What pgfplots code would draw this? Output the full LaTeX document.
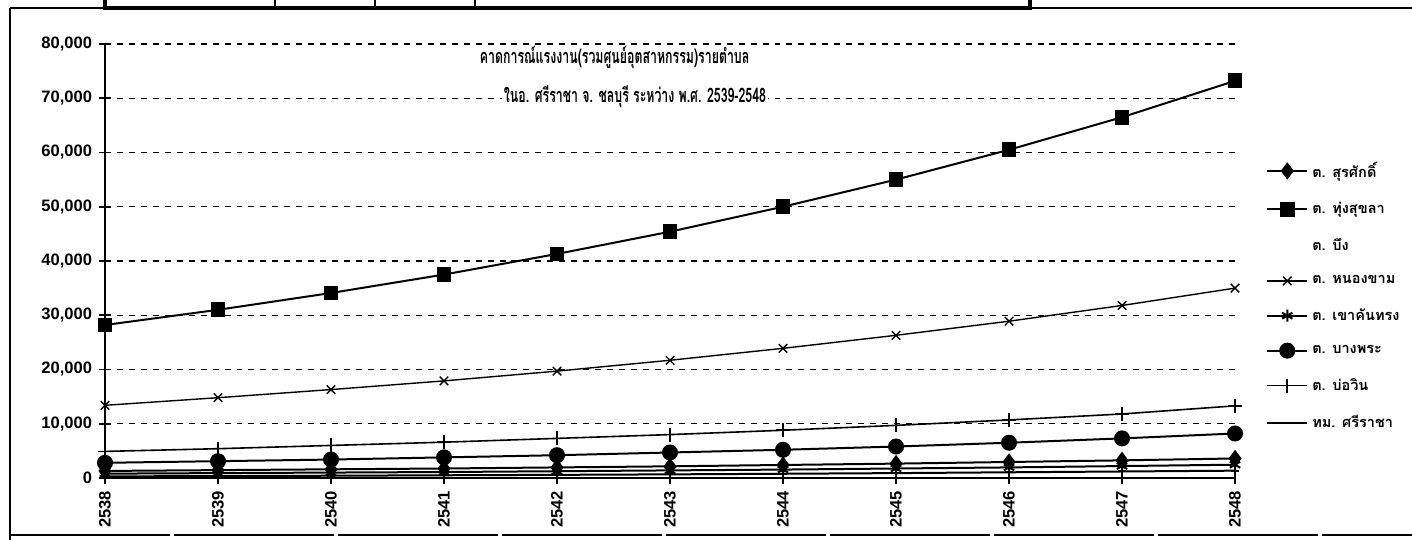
\documentclass[border=0pt]{standalone}
\usepackage{fontspec}
\setmainfont{Liberation Sans}
\newfontfamily\thaifont[Script=Thai]{Loma}
\usepackage{pgfplots}
\pgfplotsset{compat=1.18}

\begin{document}
\begin{tikzpicture}
% page frame, in pixel units of the reference
\begin{scope}[x=0.5bp,y=-0.5bp,shift={(-105,-478)}]
  \useasboundingbox (0,0) rectangle (1412,540);
  \draw[line width=1.2bp] (10,8) -- (10,540);
  \draw[line width=0.6bp] (10,8) -- (105,8);
  \draw[line width=0.6bp] (1030,8) -- (1412,8);
  \draw[line width=2bp] (105,0) -- (105,8) -- (1030,8) -- (1030,0);
  \draw[line width=1bp] (275,0) -- (275,8);
  \draw[line width=1bp] (375,0) -- (375,8);
  \draw[line width=1bp] (475,0) -- (475,8);
  \draw[line width=0.8bp, dash pattern=on 80bp off 2bp] (10,535) -- (1412,535);
\end{scope}

\begin{axis}[
    at={(0,0)}, anchor=south west,
    scale only axis, width=565bp, height=217bp,
    xmin=0, xmax=10, ymin=0, ymax=80000,
    axis x line=bottom, axis y line=left,
    axis line style={-, line width=1bp},
    xtick={0,1,2,3,4,5,6,7,8,9,10},
    xticklabels={2538,2539,2540,2541,2542,2543,2544,2545,2546,2547,2548},
    ytick={0,10000,20000,30000,40000,50000,60000,70000,80000},
    scaled y ticks=false,
    tick align=center, major tick length=6bp,
    tick style={black, line width=0.8bp},
    ymajorgrids=true,
    grid style={dashed, black, line width=0.6bp},
    /pgf/number format/1000 sep={,},
    /pgf/number format/assume math mode=true,
    ticklabel style={font=\fontsize{8.3}{9}\selectfont\bfseries},
    xticklabel style={rotate=90, anchor=east},
    clip=false,
    legend style={at={(rel axis cs:1.022,0.748)}, anchor=north west,
        draw=none, fill=none, row sep=7bp,
        font=\thaifont\bfseries\fontsize{7.3}{8}\selectfont},
    legend cell align=left,
    legend image code/.code={%
      \draw[mark repeat=2,mark phase=2]
        plot coordinates {(0bp,0bp) (10bp,0bp) (20bp,0bp)};},
    every axis plot/.append style={black, line width=1bp},
]

\addplot[mark=diamond*, mark size=3.5bp] coordinates {
  (0,1300)(1,1450)(2,1600)(3,1750)(4,1950)(5,2150)(6,2400)(7,2650)(8,2950)(9,3250)(10,3600)
};
\addlegendentry{ต. สุรศักดิ์}

\addplot[mark=square*, mark size=3.2bp] coordinates {
  (0,28200)(1,31000)(2,34100)(3,37500)(4,41300)(5,45400)(6,50000)(7,55000)(8,60500)(9,66500)(10,73200)
};
\addlegendentry{ต. ทุ่งสุขลา}

\addlegendimage{empty legend}
\addlegendentry{ต. บึง}

\addplot[mark=x, mark size=3bp, line width=0.7bp] coordinates {
  (0,13400)(1,14800)(2,16300)(3,17900)(4,19700)(5,21700)(6,23900)(7,26300)(8,28900)(9,31800)(10,35000)
};
\addlegendentry{ต. หนองขาม}

\addplot[mark=asterisk, mark size=3bp] coordinates {
  (0,800)(1,900)(2,1000)(3,1100)(4,1250)(5,1400)(6,1550)(7,1750)(8,1950)(9,2200)(10,2450)
};
\addlegendentry{ต. เขาคันทรง}

\addplot[mark=*, mark size=3.5bp] coordinates {
  (0,2800)(1,3100)(2,3400)(3,3800)(4,4200)(5,4700)(6,5200)(7,5800)(8,6500)(9,7300)(10,8200)
};
\addlegendentry{ต. บางพระ}

\addplot[mark=+, mark size=3.5bp, line width=0.8bp] coordinates {
  (0,4900)(1,5400)(2,6000)(3,6600)(4,7300)(5,8000)(6,8800)(7,9700)(8,10700)(9,11800)(10,13300)
};
\addlegendentry{ต. บ่อวิน}

\addplot[mark=-, mark size=2bp] coordinates {
  (0,300)(1,350)(2,420)(3,500)(4,580)(5,670)(6,780)(7,900)(8,1050)(9,1200)(10,1350)
};
\addlegendentry{ทม. ศรีราชา}

\node[font=\thaifont\bfseries\fontsize{10}{11}\selectfont, inner sep=1bp, xscale=0.62]
  at (rel axis cs:0.451,0.970) {คาดการณ์แรงงาน(รวมศูนย์อุตสาหกรรม)รายตำบล};
\node[font=\thaifont\bfseries\fontsize{10}{11}\selectfont, fill=white, inner sep=1.5bp, xscale=0.62]
  at (rel axis cs:0.469,0.878) {ในอ. ศรีราชา จ. ชลบุรี ระหว่าง พ.ศ. 2539-2548};
\end{axis}
\end{tikzpicture}
\end{document}
